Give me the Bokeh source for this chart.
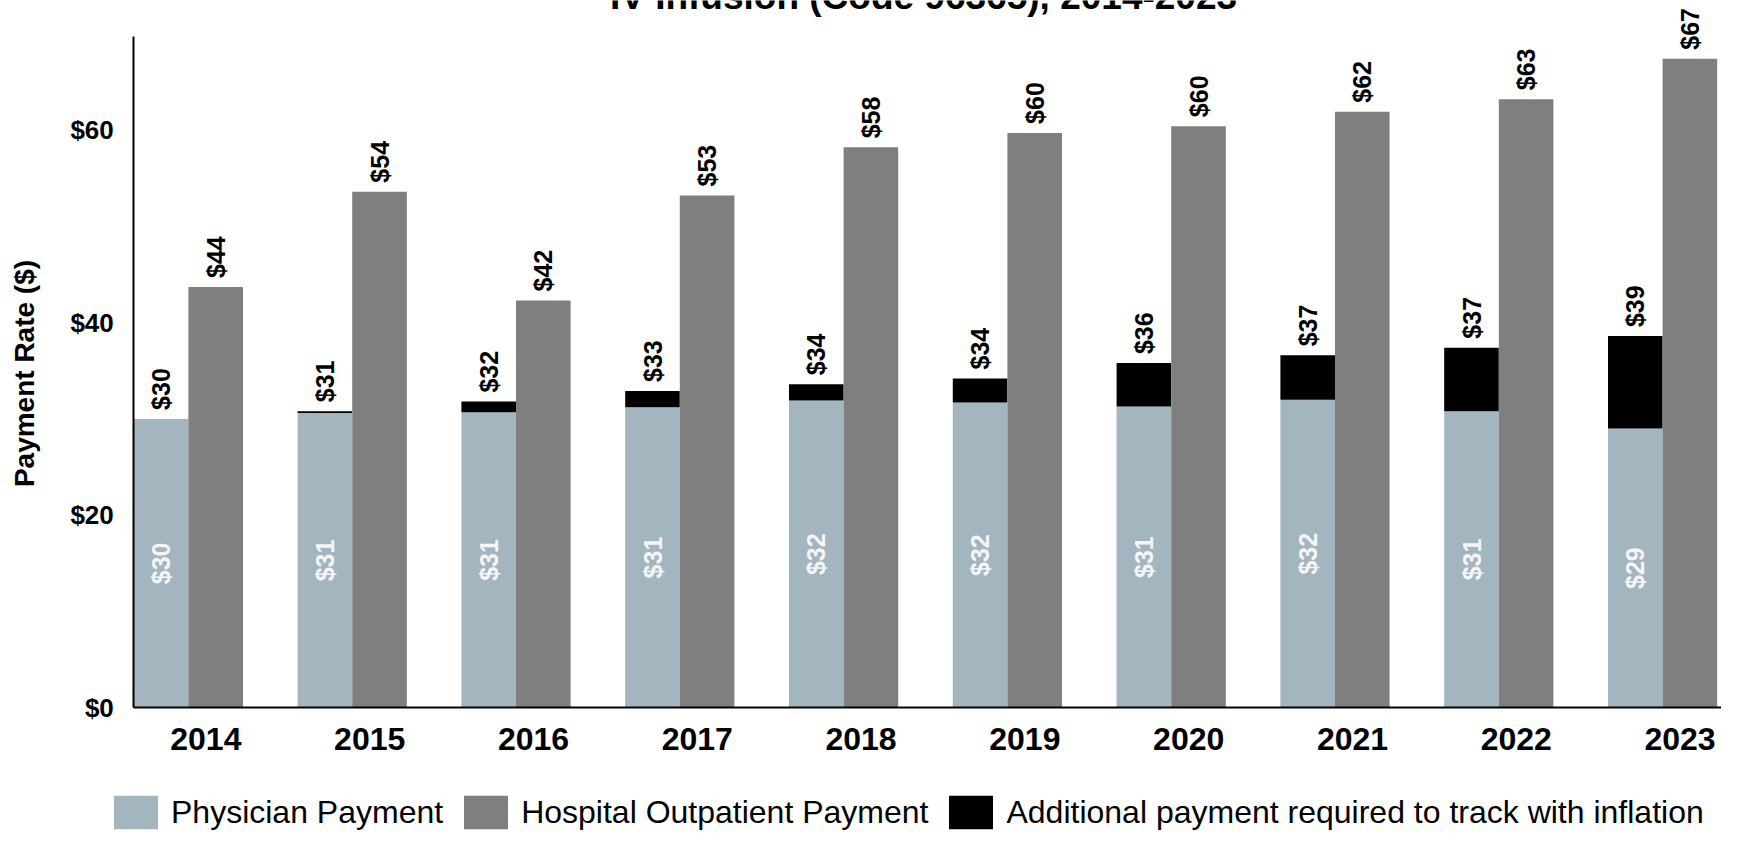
from math import pi
from bokeh.plotting import figure
from bokeh.models import (ColumnDataSource, Range1d, FixedTicker, NumeralTickFormatter,
                          Legend, LegendItem, Label)
from bokeh.core.properties import value
from bokeh.embed import file_html
from bokeh.resources import INLINE

# ---- data ----
years = ["2014", "2015", "2016", "2017", "2018", "2019", "2020", "2021", "2022", "2023"]
physician = [30.0, 30.6, 30.7, 31.2, 31.9, 31.7, 31.3, 32.0, 30.8, 29.0]
inflation_adjusted = [30.0, 30.8, 31.8, 32.9, 33.6, 34.2, 35.8, 36.6, 37.4, 38.6]
hospital = [43.7, 53.6, 42.3, 53.2, 58.2, 59.7, 60.4, 61.9, 63.2, 67.4]
title_text = "IV Infusion (Code 96365), 2014-2023"
y_title = "Payment Rate ($)"
y_ticks = [0, 20, 40, 60]

FONT_NAME = "Liberation Sans"
GFONT = value(FONT_NAME)
BAR_W = 1 / 3
LABEL_SHIFT = 0.44

W, H = 1721, 832
X0_PX, PX_PER_X = 133.3, 163.8      # canvas x of category origin, px per category
Y0_PX, PX_PER_Y = 707.3, 9.63       # canvas y of value 0, px per dollar
x_start = -X0_PX / PX_PER_X
x_end = (W - X0_PX) / PX_PER_X
y_start = -(H - Y0_PX) / PX_PER_Y
y_end = Y0_PX / PX_PER_Y


def dollars(v):
    return "$%d" % int(v + 0.5)


idx = list(range(len(years)))
src = ColumnDataSource(dict(
    phys_x=[i + BAR_W / 2 for i in idx],
    hosp_x=[i + 1.5 * BAR_W for i in idx],
    physician=physician,
    total=inflation_adjusted,
    hospital=hospital,
    phys_mid=[v / 2 for v in physician],
    phys_lbl=[dollars(v) for v in physician],
    total_lbl=[dollars(v) for v in inflation_adjusted],
    hosp_lbl=[dollars(v) for v in hospital],
))

p = figure(width=W, height=H, output_backend="svg", toolbar_location=None,
           title=None,
           x_range=Range1d(x_start, x_end), y_range=Range1d(y_start, y_end),
           min_border_left=0, min_border_right=0, min_border_top=0,
           min_border_bottom=0)
p.outline_line_color = None
p.xgrid.visible = False
p.ygrid.visible = False
p.background_fill_color = "white"
p.border_fill_color = "white"

r_phys = p.vbar(x="phys_x", top="physician", bottom=0, width=BAR_W, source=src,
                fill_color="#A3B6BF", line_color=None)
r_extra = p.vbar(x="phys_x", top="total", bottom="physician", width=BAR_W, source=src,
                 fill_color="#000000", line_color=None)
r_hosp = p.vbar(x="hosp_x", top="hospital", bottom=0, width=BAR_W, source=src,
                fill_color="#7F7F7F", line_color=None)

# value labels
p.text(x="phys_x", y="total", text="total_lbl", source=src, angle=pi / 2,
       text_align="left", text_baseline="middle", y_offset=-9,
       text_font=GFONT, text_font_style="bold", text_font_size="25px", text_color="black")
p.text(x="hosp_x", y="hospital", text="hosp_lbl", source=src, angle=pi / 2,
       text_align="left", text_baseline="middle", y_offset=-9,
       text_font=GFONT, text_font_style="bold", text_font_size="25px", text_color="black")
p.text(x="phys_x", y="phys_mid", text="phys_lbl", source=src, angle=pi / 2,
       text_align="center", text_baseline="middle",
       text_font=GFONT, text_font_style="bold", text_font_size="25px", text_color="#F5F5F5")

# axes (drawn inside the frame at value 0)
xt = [i + LABEL_SHIFT for i in idx]
p.xaxis.ticker = FixedTicker(ticks=xt)
p.xaxis.major_label_overrides = {t: y for t, y in zip(xt, years)}
p.xaxis.fixed_location = 0
p.xaxis.bounds = (0, x_end)
p.yaxis.ticker = FixedTicker(ticks=y_ticks)
p.yaxis.formatter = NumeralTickFormatter(format="$0")
p.yaxis.fixed_location = 0
p.yaxis.bounds = (0, 69.7)
for ax in (p.xaxis, p.yaxis):
    ax.axis_line_color = "black"
    ax.axis_line_width = 2
    ax.major_tick_line_color = None
    ax.minor_tick_line_color = None
    ax.major_tick_out = 0
    ax.major_tick_in = 0
    ax.major_label_text_font = FONT_NAME
    ax.major_label_text_font_style = "bold"
    ax.major_label_text_color = "black"
p.xaxis.major_label_text_font_size = "32px"
p.xaxis.major_label_standoff = 20
p.yaxis.major_label_text_font_size = "26px"
p.yaxis.major_label_standoff = 20

# y-axis title
p.add_layout(Label(x=(24 - X0_PX) / PX_PER_X, y=(Y0_PX - 373) / PX_PER_Y, text=y_title,
                   angle=pi / 2, text_align="center", text_baseline="middle",
                   text_font=FONT_NAME, text_font_style="bold", text_font_size="28px",
                   text_color="black"))

# chart title (cut off at the top, as in the reference)
p.add_layout(Label(x=(923 - X0_PX) / PX_PER_X, y=(Y0_PX + 4) / PX_PER_Y, text=title_text,
                   text_align="center", text_baseline="alphabetic", text_font=FONT_NAME,
                   text_font_style="bold", text_font_size="37px", text_color="black"))

legend = Legend(items=[
    LegendItem(label="Physician Payment", renderers=[r_phys]),
    LegendItem(label="Hospital Outpatient Payment", renderers=[r_hosp]),
    LegendItem(label="Additional payment required to track with inflation", renderers=[r_extra]),
], orientation="horizontal", location=(108, -1), padding=0, margin=0, spacing=15,
    label_standoff=8, glyph_width=55, glyph_height=42,
    label_text_font=FONT_NAME, label_text_font_size="32px", label_text_color="black",
    border_line_color=None, background_fill_alpha=0)
p.add_layout(legend, "center")

open("out.html", "w").write(file_html(p, INLINE))
